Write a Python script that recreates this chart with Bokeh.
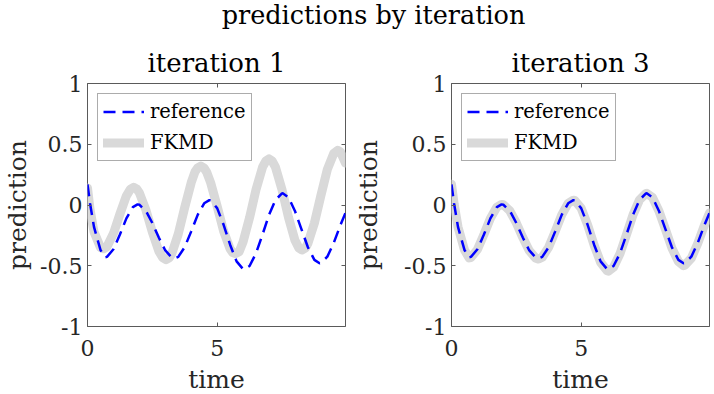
from bokeh.plotting import figure
from bokeh.models import Range1d, FixedTicker, LinearAxis, Legend, LegendItem, Div
from bokeh.layouts import row, column
from bokeh.embed import file_html
from bokeh.resources import INLINE

# ---------------- data ----------------
main_title = "predictions by iteration"
panel_titles = ["iteration 1", "iteration 3"]
series_names = ["reference", "FKMD"]
x_label = "time"
y_label = "prediction"
x_ticks = [0, 5]
y_ticks = [-1, -0.5, 0, 0.5, 1]
y_tick_labels = ["-1", "-0.5", "0", "0.5", "1"]
x_tick_labels = ["0", "5"]

t_ref = [0.0, 0.1, 0.25, 0.5, 0.68, 0.75, 1.0, 1.25, 1.5, 1.75, 1.93, 2.0,
         2.25, 2.5, 2.75, 3.0, 3.25, 3.36, 3.5, 3.75, 4.0, 4.25, 4.5, 4.7,
         4.75, 5.0, 5.25, 5.5, 5.75, 6.0, 6.05, 6.25, 6.5, 6.75, 7.0, 7.25,
         7.5, 7.53, 7.75, 8.0, 8.25, 8.5, 8.75, 8.95, 9.0, 9.25, 9.5, 9.75, 9.95]
y_ref = [0.17, 0.01, -0.18, -0.37, -0.43, -0.427, -0.364, -0.243, -0.110, -0.017, 0.005, 0.002,
         -0.048, -0.148, -0.268, -0.374, -0.433, -0.44, -0.427, -0.346, -0.217, -0.081, 0.014, 0.04,
         0.038, -0.026, -0.163, -0.327, -0.464, -0.528, -0.53, -0.502, -0.397, -0.243, -0.081, 0.042,
         0.095, 0.096, 0.063, -0.049, -0.198, -0.348, -0.452, -0.48, -0.478, -0.425, -0.310, -0.168, -0.065]

t_fkmd1 = [0.0, 0.1, 0.25, 0.5, 0.62, 0.75, 1.0, 1.25, 1.5, 1.65, 1.78, 1.9, 2.0,
           2.25, 2.5, 2.75, 2.9, 3.03, 3.15, 3.25, 3.5, 3.75, 4.0, 4.15, 4.25, 4.37, 4.5,
           4.6, 4.75, 5.0, 5.25, 5.5, 5.6, 5.7, 5.85, 6.0, 6.25, 6.5, 6.75, 6.88, 7.0, 7.12, 7.25,
           7.5, 7.75, 8.0, 8.15, 8.27, 8.4, 8.5, 8.75, 9.0, 9.25, 9.5, 9.65, 9.75, 9.95]
y_fkmd1 = [0.14, -0.04, -0.22, -0.35, -0.36, -0.344, -0.235, -0.074, 0.076, 0.128, 0.145, 0.132, 0.101,
           -0.039, -0.223, -0.380, -0.433, -0.45, -0.435, -0.400, -0.239, -0.020, 0.185, 0.275, 0.305, 0.32, 0.303,
           0.268, 0.183, -0.010, -0.216, -0.361, -0.392, -0.40, -0.384, -0.303, -0.104, 0.128, 0.311, 0.362, 0.38, 0.362, 0.311,
           0.128, -0.101, -0.290, -0.353, -0.37, -0.355, -0.315, -0.149, 0.077, 0.293, 0.426, 0.45, 0.439, 0.345]

t_fkmd3 = list(t_ref)
y_fkmd3 = [0.17, 0.01, -0.18, -0.37, -0.435, -0.432, -0.366, -0.243, -0.110, -0.017, 0.005, 0.002,
           -0.048, -0.148, -0.268, -0.376, -0.438, -0.445, -0.43, -0.346, -0.217, -0.081, 0.014, 0.04,
           0.038, -0.026, -0.163, -0.330, -0.472, -0.540, -0.545, -0.512, -0.400, -0.243, -0.081, 0.042,
           0.095, 0.096, 0.063, -0.049, -0.200, -0.355, -0.465, -0.50, -0.495, -0.437, -0.315, -0.168, -0.065]

# ---------------- styling ----------------
FONT = "DejaVu Serif"
TXT = "#262626"
BOX = "#5a5a5a"
REF_COLOR = "#0000ff"
FKMD_COLOR = "#d9d9d9"


def style_axis(ax, ticks, overrides):
    ax.ticker = FixedTicker(ticks=ticks)
    ax.axis_line_color = None
    ax.major_tick_in = 4
    ax.major_tick_out = 0
    ax.major_tick_line_color = BOX
    ax.major_tick_line_width = 1
    ax.minor_tick_line_color = None
    ax.major_label_overrides = overrides
    ax.major_label_text_font = FONT
    ax.major_label_text_font_size = "22px"
    ax.major_label_text_color = TXT


def mirror_axis(ticks):
    # tick marks only (box on): drawn as minor ticks, so no labels exist
    ax = LinearAxis(ticker=FixedTicker(ticks=[], minor_ticks=ticks))
    ax.axis_line_color = None
    ax.major_tick_line_color = None
    ax.minor_tick_in = 4
    ax.minor_tick_out = 0
    ax.minor_tick_line_color = BOX
    ax.minor_tick_line_width = 1
    ax.major_label_standoff = 0
    return ax


def make_panel(title, t_fk, y_fk, border_left, border_right, ylab_standoff):
    p = figure(frame_width=258, frame_height=243,
               x_range=Range1d(0, 9.95), y_range=Range1d(-1, 1),
               output_backend="svg", toolbar_location=None, tools="",
               min_border_left=border_left, min_border_right=border_right,
               min_border_top=45, min_border_bottom=67, title=title)
    p.background_fill_color = "white"
    p.border_fill_color = "white"
    p.outline_line_color = BOX
    p.outline_line_width = 1
    p.xgrid.visible = False
    p.ygrid.visible = False

    p.title.text_font = FONT
    p.title.text_font_size = "26px"
    p.title.text_font_style = "normal"
    p.title.text_color = "black"
    p.title.align = "center"
    p.title.standoff = 12

    xo = {v: s for v, s in zip(x_ticks, x_tick_labels)}
    yo = {v: s for v, s in zip(y_ticks, y_tick_labels)}

    xa = p.xaxis[0]
    style_axis(xa, x_ticks, xo)
    xa.major_label_standoff = 13
    xa.axis_label = x_label
    xa.axis_label_text_font = FONT
    xa.axis_label_text_font_size = "25px"
    xa.axis_label_text_font_style = "normal"
    xa.axis_label_text_color = TXT
    xa.axis_label_standoff = 6

    ya = p.yaxis[0]
    style_axis(ya, y_ticks, yo)
    ya.major_label_standoff = 5
    ya.axis_label = y_label
    ya.axis_label_text_font = FONT
    ya.axis_label_text_font_size = "25px"
    ya.axis_label_text_font_style = "normal"
    ya.axis_label_text_color = TXT
    ya.axis_label_standoff = ylab_standoff

    p.add_layout(mirror_axis(x_ticks), "above")
    p.add_layout(mirror_axis(y_ticks), "right")

    r_fk = p.line(t_fk, y_fk, line_color=FKMD_COLOR, line_width=9,
                  line_join="round", line_cap="round")
    r_ref = p.line(t_ref, y_ref, line_color=REF_COLOR, line_width=2.5,
                   line_dash="12 7")

    legend = Legend(items=[LegendItem(label=series_names[0], renderers=[r_ref]),
                           LegendItem(label=series_names[1], renderers=[r_fk])],
                    location="top_left", margin=10, padding=5, spacing=6,
                    glyph_width=41, glyph_height=25, label_height=25,
                    label_standoff=6,
                    label_text_font=FONT, label_text_font_size="19.5px",
                    label_text_color="black",
                    border_line_color=BOX, border_line_width=1,
                    background_fill_color="white", background_fill_alpha=1.0)
    p.add_layout(legend)
    return p


p1 = make_panel(panel_titles[0], t_fkmd1, y_fkmd1, 87, 6, 5)
p2 = make_panel(panel_titles[1], t_fkmd3, y_fkmd3, 100, 4, 18)

title_div = Div(
    text=('<div style="font-family:\'DejaVu Serif\';font-size:25.5px;line-height:31px;'
          'width:713px;box-sizing:border-box;text-align:center;padding-left:34px;'
          'color:#000;white-space:nowrap;">' + main_title + '</div>'),
    width=713, height=38, margin=(0, 0, 0, 0))

layout = column(title_div, row(p1, p2, spacing=0), spacing=0)

with open("out.html", "w") as f:
    f.write(file_html(layout, INLINE))
